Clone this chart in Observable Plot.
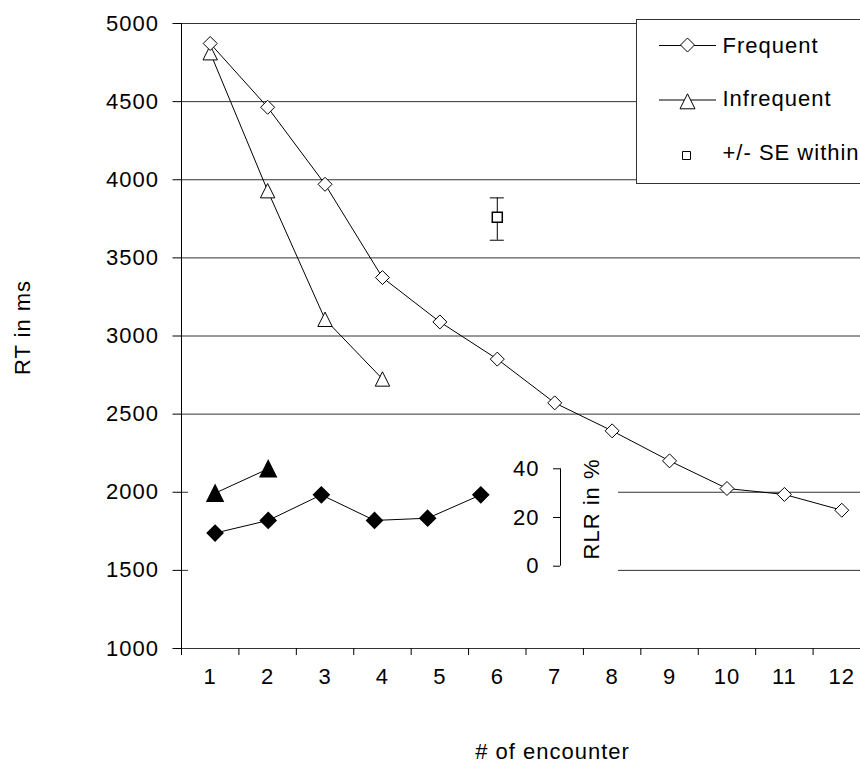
<!DOCTYPE html>
<html><head><meta charset="utf-8">
<script src="https://cdn.jsdelivr.net/npm/d3@7"></script>
<script src="https://cdn.jsdelivr.net/npm/@observablehq/plot@0.6"></script>
<style>
html,body{margin:0;padding:0;background:#fff;overflow:hidden;}
#wrap{position:relative;width:860px;height:763px;overflow:hidden;font-family:"Liberation Sans",Arial,sans-serif;}
#wrap > svg{position:absolute;}
</style></head><body><div id="wrap"></div>
<script>
// ---- data ----
const encounters = [1,2,3,4,5,6,7,8,9,10,11,12];
const frequentRT = [4872,4464,3971,3374,3090,2852,2572,2393,2201,2024,1986,1885];
const infrequentEnc = [1,2,3,4];
const infrequentRT = [4813,3930,3107,2725];
const seEnc = [6];
const seMean = [3760];
const seLow = [3613];
const seHigh = [3884];
const yTicks = [1000,1500,2000,2500,3000,3500,4000,4500,5000];
const xBounds = [0.5,1.5,2.5,3.5,4.5,5.5,6.5,7.5,8.5,9.5,10.5,11.5,12.5];
const rlrFreqEnc = [1,2,3,4,5,6];
const rlrFrequent = [13.6,18.8,29.3,18.8,19.7,29.3];
const rlrInfreqEnc = [1,2];
const rlrInfrequent = [30,40];
const rlrTicks = [0,20,40];
const legendLabels = ["Frequent","Infrequent","+/- SE within"];
const xLabel = "# of encounter";
const yLabel = "RT in ms";
const rlrLabel = "RLR in %";

// ---- symbols (Excel-like markers) ----
const rOf = size => Math.sqrt(size/Math.PI);
const diamondSym = {draw(c,s){const r=rOf(s);c.moveTo(0,-r);c.lineTo(r,0);c.lineTo(0,r);c.lineTo(-r,0);c.closePath();}};
const triangleSym = {draw(c,s){const r=rOf(s);c.moveTo(0,-r);c.lineTo(r,r);c.lineTo(-r,r);c.closePath();}};
const squareSym = {draw(c,s){const r=rOf(s);c.rect(-r,-r,2*r,2*r);}};
function symPath(sym,r){const p=d3.path();sym.draw(p,Math.PI*r*r);return p.toString();}

const font = {fontFamily:'"Liberation Sans", Arial, sans-serif', fontSize:"22px", letterSpacing:"1px"};
const ink = "#000";
const grid = "#333";

const freq = encounters.map((e,i)=>({e, v:frequentRT[i]}));
const infreq = infrequentEnc.map((e,i)=>({e, v:infrequentRT[i]}));
const se = seEnc.map((e,i)=>({e, m:seMean[i], lo:seLow[i], hi:seHigh[i]}));
const rlrF = rlrFreqEnc.map((e,i)=>({e, v:rlrFrequent[i]}));
const rlrI = rlrInfreqEnc.map((e,i)=>({e, v:rlrInfrequent[i]}));

const wrap = document.getElementById("wrap");

// ---- main chart ----
const main = Plot.plot({
  width: 870, height: 763,
  marginLeft: 181, marginRight: 0, marginTop: 23, marginBottom: 115,
  style: {...font, background:"white", maxWidth:"none", overflow:"visible", color: ink},
  x: {type:"linear", domain:[0.5,12.5]},
  y: {type:"linear", domain:[1000,5000]},
  marks: [
    Plot.ruleY(yTicks, {stroke:grid, strokeWidth:1}),
    Plot.ruleX([0.5], {y1:1000, y2:5000, stroke:ink}),
    Plot.axisY({ticks:yTicks, tickSize:8.5, tickPadding:14, tickFormat:d=>String(d), label:null}),
    Plot.axisX({ticks:encounters, tickSize:0, tickPadding:20, tickFormat:d=>String(d), label:null}),
    Plot.axisX({ticks:xBounds, tickSize:7, tickFormat:()=>"", label:null}),
    Plot.line(infreq, {x:"e", y:"v", stroke:ink, strokeWidth:1}),
    Plot.line(freq, {x:"e", y:"v", stroke:ink, strokeWidth:1}),
    Plot.dot(infreq, {x:"e", y:"v", symbol:triangleSym, r:7.2, fill:"white", stroke:ink, strokeWidth:1}),
    Plot.dot(freq, {x:"e", y:"v", symbol:diamondSym, r:7, fill:"white", stroke:ink, strokeWidth:1}),
    Plot.ruleX(se, {x:"e", y1:"lo", y2:"hi", stroke:ink}),
    Plot.ruleY(se, {x1:"e", x2:"e", y:"lo", insetLeft:-7, insetRight:-7, stroke:ink}),
    Plot.ruleY(se, {x1:"e", x2:"e", y:"hi", insetLeft:-7, insetRight:-7, stroke:ink}),
    Plot.dot(se, {x:"e", y:"m", symbol:squareSym, r:5, fill:"white", stroke:ink}),
    Plot.text([yLabel], {frameAnchor:"left", textAnchor:"middle", lineAnchor:"middle", dx:-158.5, dy:-8.5, rotate:-90, fontSize:22, fill:ink}),
    Plot.text([xLabel], {frameAnchor:"bottom", textAnchor:"middle", lineAnchor:"middle", dx:26.5, dy:103, fontSize:22, fill:ink})
  ]
});
main.style.left = "0px"; main.style.top = "0px";
wrap.appendChild(main);

// ---- inset (RLR) ----
const insetAxisX = 7.5;
const inset = Plot.plot({
  width: 430, height: 158,
  marginLeft: 0, marginRight: 58, marginTop: 26.3, marginBottom: 34.3,
  style: {...font, background:"white", maxWidth:"none", overflow:"visible", color: ink},
  x: {type:"linear", domain:[0.5, insetAxisX], axis:null},
  y: {type:"linear", domain:[0,40]},
  marks: [
    Plot.ruleX([insetAxisX], {y1:0, y2:40, stroke:ink}),
    Plot.axisY({ticks:rlrTicks, anchor:"left", dx:372, tickSize:7, tickPadding:14, tickFormat:d=>String(d), label:null}),
    Plot.line(rlrI, {x:"e", y:"v", stroke:ink, strokeWidth:1}),
    Plot.line(rlrF, {x:"e", y:"v", stroke:ink, strokeWidth:1}),
    Plot.dot(rlrI, {x:"e", y:"v", symbol:triangleSym, r:8, fill:ink, stroke:ink}),
    Plot.dot(rlrF, {x:"e", y:"v", symbol:diamondSym, r:7.8, fill:ink, stroke:ink}),
    Plot.text([rlrLabel], {frameAnchor:"right", textAnchor:"middle", lineAnchor:"middle", dx:31, dy:-8.5, rotate:-90, fontSize:22, fill:ink})
  ]
});
inset.style.left = "188px"; inset.style.top = "442px";
wrap.appendChild(inset);

// ---- legend ----
const lg = d3.create("svg").attr("width",240).attr("height",166)
  .style("left","636px").style("top","19px")
  .style("font-family",font.fontFamily).style("font-size",font.fontSize).style("letter-spacing",font.letterSpacing);
lg.append("rect").attr("x",0.5).attr("y",0.5).attr("width",238).attr("height",164)
  .attr("fill","white").attr("stroke",grid);
const rows = [
  {label:legendLabels[0], ly:26, sy:26, sym:diamondSym, r:7, line:true, ty:33.9},
  {label:legendLabels[1], ly:80.5, sy:82.3, sym:triangleSym, r:7.5, line:true, ty:87.2},
  {label:legendLabels[2], ly:136.5, sy:136.5, sym:squareSym, r:4, line:false, ty:141.4}
];
rows.forEach(d=>{
  if (d.line) lg.append("line").attr("x1",23).attr("x2",80).attr("y1",d.ly+0.5).attr("y2",d.ly+0.5).attr("stroke",ink);
  lg.append("path").attr("d",symPath(d.sym,d.r)).attr("transform",`translate(${d.line?51.5:50.5},${d.sy})`)
    .attr("fill","white").attr("stroke",ink);
  lg.append("text").attr("x",86.5).attr("y",d.ty).attr("fill",ink).text(d.label);
});
wrap.appendChild(lg.node());
</script>
</body></html>
